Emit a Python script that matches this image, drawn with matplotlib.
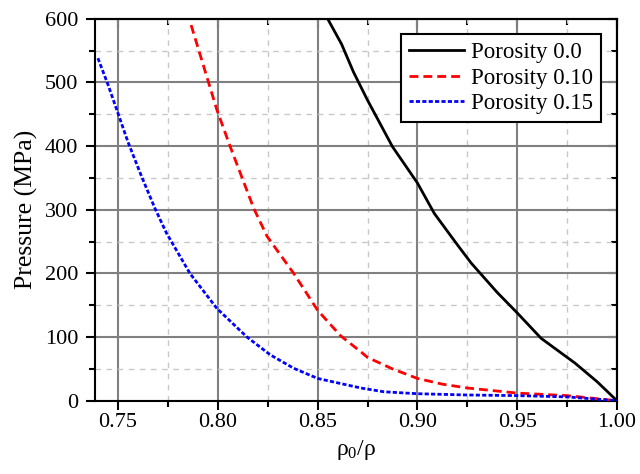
import matplotlib
matplotlib.use("Agg")
import matplotlib.pyplot as plt
from matplotlib.ticker import MultipleLocator, FormatStrFormatter

plt.rcParams['font.family'] = ['Liberation Serif', 'DejaVu Serif']
plt.rcParams['mathtext.fontset'] = 'custom'
plt.rcParams['mathtext.rm'] = 'Liberation Serif'
plt.rcParams['mathtext.default'] = 'regular'

# compression curves: relative density vs pressure (MPa)
x_p00 = [0.855, 0.862, 0.868, 0.875, 0.8875, 0.90, 0.9085, 0.92, 0.927,
         0.94, 0.95, 0.962, 0.979, 0.99, 1.0]
p_p00 = [600, 560, 516, 472, 399, 342, 294, 245, 216, 170, 138, 98, 59, 30, 0]

x_p10 = [0.7866, 0.7995, 0.8062, 0.818, 0.8247, 0.838, 0.85, 0.8615, 0.8716,
         0.875, 0.8875, 0.90, 0.9125, 0.925, 0.95, 0.975, 1.0]
p_p10 = [590, 457, 399, 302, 258, 200, 142, 102, 77, 68, 50, 35, 26, 20, 12, 8, 0]

x_p15 = [0.7399, 0.745, 0.75, 0.755, 0.7618, 0.7685, 0.7743, 0.786, 0.7995,
         0.8146, 0.8263, 0.838, 0.85, 0.8615, 0.8716, 0.8833, 0.90, 0.925,
         0.95, 0.975, 1.0]
p_p15 = [538, 496, 451, 406, 352, 302, 263, 200, 145, 100, 72, 51, 35, 27,
         20, 14, 11, 9, 8, 6, 0]

labels = ['Porosity 0.0', 'Porosity 0.10', 'Porosity 0.15']

fig = plt.figure(figsize=(6.4, 4.74), dpi=100)
ax = fig.add_axes([0.148, 0.1546, 0.816, 0.806])

ax.plot(x_p00, p_p00, color='black', lw=2.0, label=labels[0], zorder=3)
ax.plot(x_p10, p_p10, color='#ff0000', lw=2.0, dashes=(3.2, 1.8),
        label=labels[1], zorder=3)
ax.plot(x_p15, p_p15, color='#0000ff', lw=2.0, dashes=(1.5, 0.8),
        label=labels[2], zorder=3)

ax.set_xlim(0.7383, 1.0)
ax.set_ylim(0, 600)
ax.xaxis.set_major_locator(MultipleLocator(0.05))
ax.xaxis.set_minor_locator(MultipleLocator(0.025))
ax.yaxis.set_major_locator(MultipleLocator(100))
ax.yaxis.set_minor_locator(MultipleLocator(50))
ax.xaxis.set_major_formatter(FormatStrFormatter('%.2f'))

ax.grid(which='major', color='#808080', lw=1.5, ls='-', zorder=1)
ax.grid(which='minor', color='#c8c8c8', lw=1.0, ls=(0, (4, 4)), zorder=1)
ax.set_axisbelow(True)

for s in ax.spines.values():
    s.set_linewidth(1.5)

# outward ticks on bottom/left, inward on top/right
ax.tick_params(which='both', direction='out', width=1.5, labelsize=16,
               top=False, right=False)
ax.tick_params(which='major', length=6.5)
ax.tick_params(which='minor', length=4.5)
ax.tick_params(axis='x', pad=2)
ax.tick_params(axis='y', pad=5.5)

ax_top = ax.secondary_xaxis('top')
ax_top.xaxis.set_major_locator(MultipleLocator(0.05))
ax_top.xaxis.set_minor_locator(MultipleLocator(0.025))
ax_top.tick_params(which='both', direction='in', width=1.5, labeltop=False)
ax_top.tick_params(which='major', length=6.5)
ax_top.tick_params(which='minor', length=4.5)
ax_top.spines['top'].set_linewidth(1.5)

ax_right = ax.secondary_yaxis('right')
ax_right.yaxis.set_major_locator(MultipleLocator(100))
ax_right.yaxis.set_minor_locator(MultipleLocator(50))
ax_right.tick_params(which='both', direction='in', width=1.5, labelright=False)
ax_right.tick_params(which='major', length=6.5)
ax_right.tick_params(which='minor', length=4.5)
ax_right.spines['right'].set_linewidth(1.5)

ax.set_xlabel('ρ$_0$/ρ', fontsize=17, labelpad=5)
ax.set_ylabel('Pressure (MPa)', fontsize=18.5, labelpad=5)

leg = ax.legend(loc='upper right', bbox_to_anchor=(0.969, 0.96), fontsize=16.5,
                frameon=True, fancybox=False, edgecolor='black',
                handlelength=2.4, handletextpad=0.3, labelspacing=0.2,
                borderpad=0.35, borderaxespad=0)
leg.get_frame().set_linewidth(1.5)
leg.get_frame().set_alpha(1)

fig.savefig('out.png', dpi=100)
